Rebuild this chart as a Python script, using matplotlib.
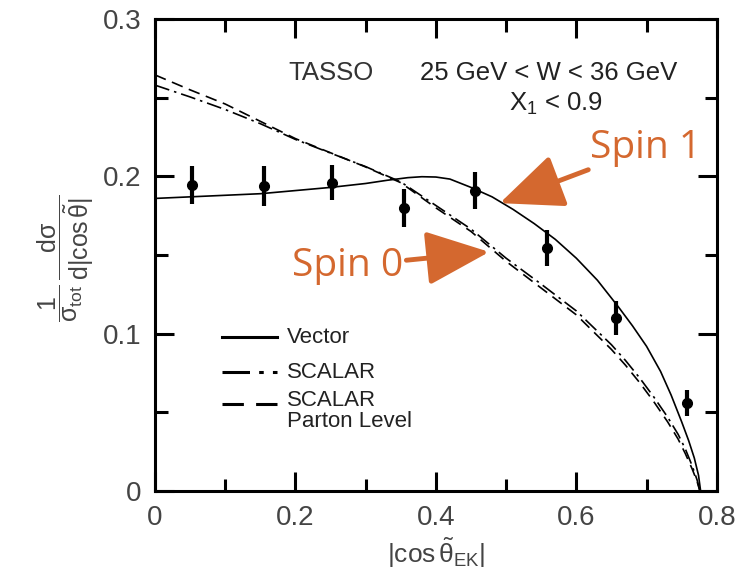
import numpy as np
import matplotlib
matplotlib.use("Agg")
import matplotlib.pyplot as plt

plt.rcParams['font.family'] = ['Liberation Sans', 'DejaVu Sans']
plt.rcParams['mathtext.fontset'] = 'custom'
plt.rcParams['mathtext.rm'] = 'Liberation Sans'
plt.rcParams['mathtext.it'] = 'Liberation Sans'
plt.rcParams['mathtext.bf'] = 'Liberation Sans:bold'

# TASSO data points (|cos theta_EK|, normalised distribution, error)
data_x = [0.053, 0.155, 0.252, 0.354, 0.455, 0.558, 0.656, 0.758]
data_y = [0.1945, 0.194, 0.196, 0.180, 0.191, 0.1545, 0.110, 0.056]
data_err = [0.012, 0.0125, 0.011, 0.012, 0.012, 0.0115, 0.011, 0.008]

# Vector (spin 1) prediction
vec_x = [0.0, 0.05, 0.1, 0.15, 0.2, 0.25, 0.3, 0.33, 0.36, 0.38, 0.40, 0.42,
         0.45, 0.48, 0.51, 0.54, 0.57, 0.6, 0.63, 0.66, 0.68, 0.70, 0.72,
         0.735, 0.75, 0.76, 0.768, 0.774, 0.777]
vec_y = [0.186, 0.187, 0.188, 0.189, 0.191, 0.193, 0.1955, 0.1975, 0.1992,
         0.1998, 0.1996, 0.1983, 0.193, 0.187, 0.179, 0.170, 0.160, 0.148,
         0.134, 0.117, 0.105, 0.092, 0.076, 0.061, 0.044, 0.032, 0.021,
         0.010, 0.0]

# Scalar (spin 0) predictions
sc_x = [0.0, 0.05, 0.1, 0.15, 0.2, 0.25, 0.3, 0.35, 0.4, 0.45, 0.5, 0.55,
        0.6, 0.65, 0.67, 0.69, 0.71, 0.73, 0.745, 0.755, 0.765, 0.772, 0.776]
sc_y = [0.258, 0.2505, 0.2425, 0.2335, 0.2235, 0.2148, 0.2062, 0.1965,
        0.1815, 0.1665, 0.148, 0.1315, 0.1145, 0.093, 0.083, 0.072, 0.060,
        0.047, 0.036, 0.027, 0.016, 0.007, 0.0]
parton_y = [0.2645, 0.255, 0.246, 0.235, 0.224, 0.215, 0.206, 0.196, 0.180,
            0.165, 0.146, 0.129, 0.112, 0.090, 0.080, 0.069, 0.057, 0.044,
            0.033, 0.024, 0.014, 0.006, 0.0]

legend_labels = ['Vector', 'SCALAR', 'SCALAR\nParton Level']
orange = '#D4682F'
grey = '#444444'

fig = plt.figure(figsize=(7.5, 5.71), dpi=100)
ax = fig.add_axes([0.2067, 0.140, 0.749, 0.8266])

ax.plot(vec_x, vec_y, color='black', lw=1.2)
ax.plot(sc_x, sc_y, color='black', lw=1.2, dashes=(9, 3, 1.5, 3))
ax.plot(sc_x, parton_y, color='black', lw=1.2, dashes=(7, 4))
ax.errorbar(data_x, data_y, yerr=data_err, fmt='o', color='black',
            ms=7, elinewidth=3, capsize=0)

ax.set_xlim(0, 0.8)
ax.set_ylim(0, 0.3)
ax.set_xticks([0, 0.2, 0.4, 0.6, 0.8])
ax.set_xticklabels(['0', '0.2', '0.4', '0.6', '0.8'])
ax.set_xticks(np.arange(0.1, 0.8, 0.2), minor=True)
ax.set_yticks([0, 0.1, 0.2, 0.3])
ax.set_yticklabels(['0', '0.1', '0.2', '0.3'])
ax.set_yticks([0.05, 0.15, 0.25], minor=True)
ax.tick_params(which='both', direction='in', top=True, right=True, width=2.2,
               labelsize=20, labelcolor=grey, pad=10)
ax.tick_params(which='major', length=14)
ax.tick_params(which='minor', length=9)
for s in ax.spines.values():
    s.set_linewidth(2.2)

ax.set_ylabel(r'$\dfrac{1}{\sigma_{tot}}\,\dfrac{d\sigma}{d|\cos\tilde{\theta}|}$',
              fontsize=18, color=grey)
ax.yaxis.set_label_coords(-0.105, 0.494)
ax.set_xlabel(r'$|\cos\tilde{\theta}_{EK}|$', fontsize=19, color=grey)
ax.xaxis.set_label_coords(0.5, -0.095)

# header text
ax.text(0.238, 0.885, 'TASSO', transform=ax.transAxes, fontsize=18.5,
        color='#333333', va='center')
ax.text(0.472, 0.885, '25 GeV < W < 36 GeV', transform=ax.transAxes,
        fontsize=18.5, color='#222222', va='center')
ax.text(0.713, 0.820, r'X$_1$ < 0.9', transform=ax.transAxes,
        fontsize=18.5, color='#222222', va='center', ha='center')

# hand-made legend
leg_y = [0.326, 0.252, 0.184]
styles = [dict(), dict(dashes=(9, 3, 1.5, 3)), dict(dashes=(7, 4))]
for yy, lab, st in zip(leg_y, legend_labels, styles):
    ax.plot([0.119, 0.218], [yy, yy], transform=ax.transAxes, color='black',
            lw=2.2, **st)
    ax.text(0.235, yy, lab, transform=ax.transAxes, fontsize=16,
            color='#222222', va='top' if '\n' in lab else 'center',
            linespacing=1.0)
ax.texts[-1].set_y(leg_y[-1] + 0.030)

# Spin annotations
ax.annotate('Spin 1', xy=(0.491, 0.183), xytext=(0.62, 0.206),
            fontsize=28, color=orange, family=['Open Sans', 'DejaVu Sans'],
            ha='left', va='bottom',
            arrowprops=dict(arrowstyle='-|>,head_length=1.4,head_width=0.6',
                            color=orange, lw=3.5, shrinkA=0, shrinkB=0))
ax.annotate('Spin 0', xy=(0.476, 0.152), xytext=(0.354, 0.143),
            fontsize=28, color=orange, family=['Open Sans', 'DejaVu Sans'],
            ha='right', va='center',
            arrowprops=dict(arrowstyle='-|>,head_length=1.4,head_width=0.6',
                            color=orange, lw=3.5, shrinkA=0, shrinkB=0))

fig.savefig('out.png', dpi=100)
